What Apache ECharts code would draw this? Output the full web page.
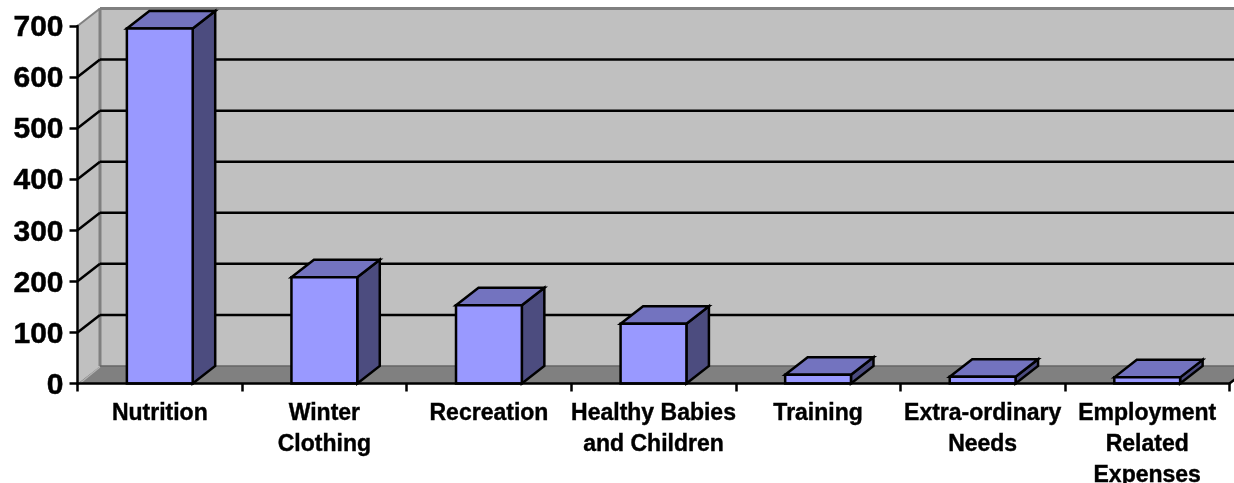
<!DOCTYPE html>
<html><head><meta charset="utf-8">
<style>html,body{margin:0;padding:0;background:#fff}#c{width:1234px;height:483px}</style>
<script src="https://cdn.jsdelivr.net/npm/echarts@6/dist/echarts.min.js"></script>
</head><body><div id="c"></div>
<script>
const categories = ['Nutrition','Winter\nClothing','Recreation','Healthy Babies\nand Children','Training','Extra-ordinary\nNeeds','Employment\nRelated\nExpenses'];
const values = [695,208,153,117,17,13,12];
const gridTicks = [100,200,300,400,500,600];
const depthX = 22.5, depthY = 17.5, barRatio = 0.4;
const font = '"Liberation Sans", Arial, sans-serif';

function poly(points, fill, stroke, lw){
  return {type:'polygon',shape:{points},style:{fill,stroke,lineWidth:lw,lineJoin:'miter'}};
}
function line(a,b,stroke,lw){
  return {type:'line',shape:{x1:a[0],y1:a[1],x2:b[0],y2:b[1]},style:{stroke,lineWidth:lw,fill:null}};
}
function wallsItem(params, api){
  const c = params.coordSys;
  const L = c.x, R = c.x + c.width + 40;
  const y0 = api.coord([0,0])[1], yT = api.coord([0,700])[1];
  const bx = L + depthX;
  return {type:'group',children:[
    poly([[L,y0],[bx,y0-depthY],[bx,yT-depthY],[L,yT]],'#C0C0C0',null,0),
    poly([[bx,y0-depthY],[R,y0-depthY],[R,yT-depthY],[bx,yT-depthY]],'#C0C0C0',null,0),
    poly([[L,y0],[bx,y0-depthY],[R,y0-depthY],[c.x+c.width,y0]],'#808080',null,0),
    line([bx,yT-depthY],[R,yT-depthY],'#808080',3),
    line([bx,yT-depthY],[bx,y0-depthY],'#808080',3),
    line([L,yT],[bx,yT-depthY],'#808080',2),
    line([L+1,y0+1],[bx,y0-depthY+1],'#B4B4B4',1.2),
    line([bx,y0-depthY],[R,y0-depthY],'#666666',1.5),
    line([c.x+c.width,y0],[c.x+c.width+depthX,y0-depthY],'#000',2.5)
  ]};
}
function gridItem(params, api){
  const c = params.coordSys;
  const y = api.coord([0,api.value(1)])[1];
  const L = c.x, R = c.x + c.width + 40;
  return {type:'group',children:[
    line([L,y],[L+depthX,y-depthY],'#000',2.5),
    line([L+depthX,y-depthY],[R,y-depthY],'#000',2.5)
  ]};
}
function barItem(params, api){
  const p = api.coord([api.value(0),api.value(1)]);
  const base = api.coord([api.value(0),0]);
  const w = api.size([1,0])[0]*barRatio;
  const l = p[0]-w/2, r = p[0]+w/2, t = p[1], b = base[1];
  const border = {stroke:'#000',lw:2.5};
  return {type:'group',children:[
    poly([[r,b],[r+depthX,b-depthY],[r+depthX,t-depthY],[r,t]],'#4C4C7F',border.stroke,border.lw),
    poly([[l,t],[l+depthX,t-depthY],[r+depthX,t-depthY],[r,t]],'#7373BF',border.stroke,border.lw),
    poly([[l,t],[r,t],[r,b],[l,b]],'#9999FF',border.stroke,border.lw)
  ]};
}
const chart = echarts.init(document.getElementById('c'),null,{renderer:'canvas'});
chart.setOption({
  animation:false,
  backgroundColor:'#fff',
  grid:{left:77.5,right:4.5,top:26,bottom:99.5,containLabel:false,outerBoundsMode:'none'},
  xAxis:{type:'category',data:categories,z:6,
    axisLine:{show:true,lineStyle:{color:'#000',width:2.5}},
    axisTick:{show:true,alignWithLabel:false,length:8,lineStyle:{color:'#000',width:2.5}},
    axisLabel:{interval:0,color:'#000',fontFamily:font,fontWeight:'bold',fontSize:23,lineHeight:31,margin:15,hideOverlap:false,textBorderColor:'#000',textBorderWidth:0.4},
    splitLine:{show:false}},
  yAxis:{type:'value',min:0,max:700,interval:100,z:6,
    axisLine:{show:true,lineStyle:{color:'#000',width:2.5}},
    axisTick:{show:true,length:8,lineStyle:{color:'#000',width:2.5}},
    axisLabel:{margin:14,formatter:v=>'{t|'+v+'}',
      rich:{t:{color:'#000',fontFamily:font,fontWeight:'bold',fontSize:30,padding:[4,0,0,0],textBorderColor:'#000',textBorderWidth:0.5}}},
    splitLine:{show:false}},
  series:[
    {type:'custom',name:'walls',z:1,silent:true,data:[[0,0]],renderItem:wallsItem},
    {type:'custom',name:'grid',z:2,silent:true,data:gridTicks.map(v=>[0,v]),renderItem:gridItem},
    {type:'custom',name:'bars',z:3,data:values.map((v,i)=>[i,v]),renderItem:barItem}
  ]
});
</script></body></html>
